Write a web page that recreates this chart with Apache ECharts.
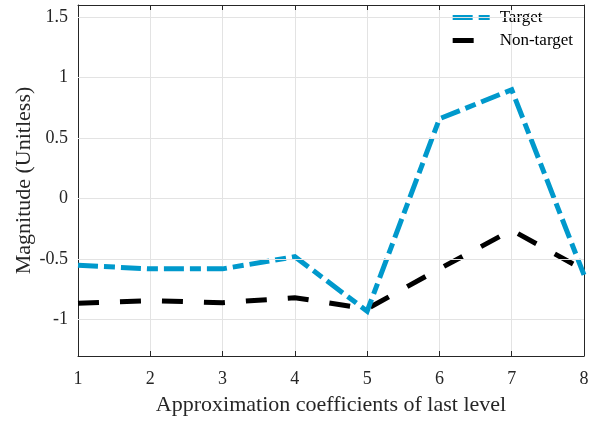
<!DOCTYPE html>
<html>
<head>
<meta charset="utf-8">
<script src="https://cdn.jsdelivr.net/npm/echarts@6/dist/echarts.min.js"></script>
<style>
  html, body { margin: 0; padding: 0; background: #fff; }
  #chart { width: 597px; height: 421px; }
</style>
</head>
<body>
<div id="chart"></div>
<script>
// Coefficient index (1..8) and mean magnitudes per class
const coefficients = [1, 2, 3, 4, 5, 6, 7, 8];
const targetValues = [-0.55, -0.58, -0.58, -0.48, -0.93, 0.66, 0.90, -0.63];
const nonTargetValues = [-0.865, -0.843, -0.86, -0.818, -0.91, -0.58, -0.26, -0.59];
const seriesNames = ['Target', 'Non-target'];
const yTickValues = [-1, -0.5, 0, 0.5, 1, 1.5];

const serif = '"Liberation Serif", "DejaVu Serif", serif';
const gridColor = '#e3e3e3';
const axisColor = '#262626';
const targetDash = [20, 6, 11, 6];
const nonTargetDash = [21, 21];

function pairs(values) {
  return coefficients.map((c, i) => [c, values[i]]);
}

const chart = echarts.init(document.getElementById('chart'), null, { renderer: 'canvas' });

const tickStyle = { show: true, inside: true, length: 5, lineStyle: { color: axisColor } };
const lineStyle = { show: true, onZero: false, lineStyle: { color: axisColor, width: 1 } };

chart.setOption({
  animation: false,
  backgroundColor: '#fff',
  grid: { left: 78, right: 13, top: 5, bottom: 63, containLabel: false },
  legend: {
    data: [
      { name: seriesNames[0], lineStyle: { type: targetDash, width: 5, cap: 'butt' } },
      { name: seriesNames[1], lineStyle: { type: nonTargetDash, width: 5, cap: 'butt' } }
    ],
    right: 19,
    top: 4,
    orient: 'vertical',
    itemWidth: 39,
    itemHeight: 14,
    itemGap: 6,
    itemStyle: { opacity: 0 },
    textStyle: { fontFamily: serif, fontSize: 17, lineHeight: 14, color: '#000', padding: [0, 0, 0, 3] }
  },
  xAxis: [
    {
      type: 'value',
      min: 1,
      max: 8,
      interval: 1,
      name: 'Approximation coefficients of last level',
      nameLocation: 'middle',
      nameGap: 38,
      nameMoveOverlap: false,
      nameTextStyle: { fontFamily: serif, fontSize: 22, color: '#262626' },
      axisLine: lineStyle,
      axisTick: tickStyle,
      axisLabel: { fontFamily: serif, fontSize: 18, color: '#262626', margin: 14 },
      splitLine: { show: true, lineStyle: { color: gridColor, width: 1 } }
    },
    {
      type: 'value', position: 'top', min: 1, max: 8, interval: 1,
      axisLine: lineStyle, axisTick: tickStyle,
      axisLabel: { show: false }, splitLine: { show: false }
    }
  ],
  yAxis: [
    {
      type: 'value',
      min: -1.3,
      max: 1.6,
      name: 'Magnitude (Unitless)',
      nameLocation: 'middle',
      nameGap: 43,
      nameMoveOverlap: false,
      nameTextStyle: { fontFamily: serif, fontSize: 22, color: '#262626' },
      axisLine: lineStyle,
      axisTick: Object.assign({ customValues: yTickValues }, tickStyle),
      axisLabel: {
        fontFamily: serif, fontSize: 18, color: '#262626', margin: 10,
        customValues: yTickValues
      },
      splitLine: { show: false }
    },
    {
      type: 'value', position: 'right', min: -1.3, max: 1.6,
      axisLine: lineStyle,
      axisTick: Object.assign({ customValues: yTickValues }, tickStyle),
      axisLabel: { show: false }, splitLine: { show: false }
    }
  ],
  series: [
    {
      // horizontal grid lines at the y tick values
      type: 'line',
      data: [],
      silent: true,
      z: 1,
      markLine: {
        silent: true,
        symbol: 'none',
        label: { show: false },
        animation: false,
        lineStyle: { color: gridColor, width: 1, type: 'solid' },
        emphasis: { disabled: true },
        data: yTickValues.map(v => ({ yAxis: v }))
      }
    },
    {
      name: seriesNames[0],
      type: 'line',
      data: pairs(targetValues),
      symbol: 'none',
      color: '#0099cc',
      lineStyle: { color: '#0099cc', width: 5, type: targetDash, cap: 'butt', join: 'miter' },
      z: 3
    },
    {
      name: seriesNames[1],
      type: 'line',
      data: pairs(nonTargetValues),
      symbol: 'none',
      color: '#000',
      lineStyle: { color: '#000', width: 5, type: nonTargetDash, cap: 'butt', join: 'miter' },
      z: 2
    }
  ]
});
</script>
</body>
</html>
